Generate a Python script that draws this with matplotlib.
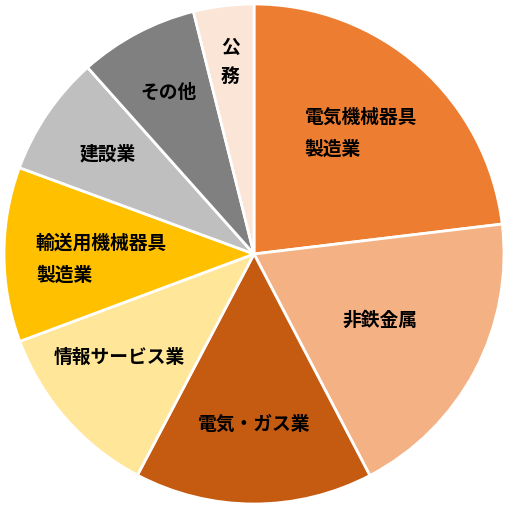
import matplotlib
matplotlib.use("Agg")
import matplotlib.pyplot as plt
import numpy as np

plt.rcParams["font.family"] = ["Noto Sans CJK JP", "DejaVu Sans"]

# share of each sector (%), clockwise from 12 o'clock
labels = ["電気機械器具\n製造業", "非鉄金属", "電気・ガス業", "情報サービス業",
          "輸送用機械器具\n製造業", "建設業", "その他", "公\n務"]
shares = [23.1, 19.25, 15.4, 11.6, 11.3, 7.8, 7.7, 3.9]

colors = ["#ED7D31", "#F4B183", "#C55A11", "#FFE699",
          "#FFC000", "#BFBFBF", "#808080", "#FBE5D6"]
# label placement: radius fraction and angle nudge (deg) from the wedge middle
label_r = [0.645, 0.57, 0.68, 0.68, 0.61, 0.71, 0.73, 0.775]
label_dt = [0, 0, 0, -4, 2, 0, 0, 0]

fig = plt.figure(figsize=(5.11, 5.11), dpi=100)
ax = fig.add_axes([0, 0, 1, 1])
ax.axis("off")

wedges, _ = ax.pie(shares, startangle=90, counterclock=False, colors=colors,
                   radius=1.0,
                   wedgeprops={"edgecolor": "white", "linewidth": 2})

for w, lab, r, dt in zip(wedges, labels, label_r, label_dt):
    mid = np.deg2rad((w.theta1 + w.theta2) / 2 + dt)
    x, y = r * np.cos(mid), r * np.sin(mid)
    ls = 1.88 if "\n" in lab and len(lab) > 3 else 1.69
    ax.text(x, y, lab, ha="center", va="center", multialignment="left",
            fontsize=13.5, fontweight="bold", linespacing=ls, color="black")

ax.set_xlim(-254 / 250, 257 / 250)
ax.set_ylim(-257 / 250, 254 / 250)
ax.set_aspect("equal", adjustable="datalim")

fig.savefig("out.png", dpi=100)
